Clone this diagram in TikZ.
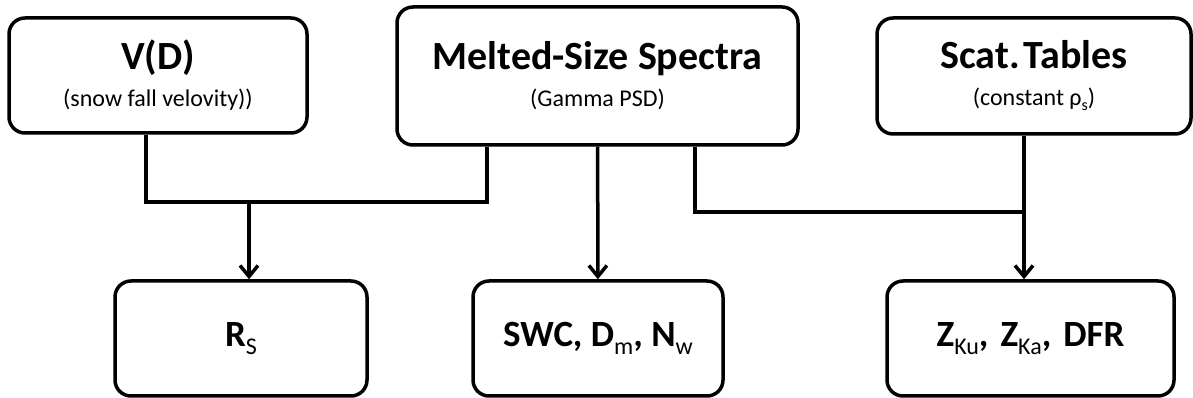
\documentclass[tikz,border=0pt]{standalone}
\usepackage{fontspec}
\setmainfont{Carlito}
\usetikzlibrary{arrows.meta}

\tikzset{
    box/.style={draw, line width=3.5pt, rounded corners=16pt, inner sep=0pt, align=center,
        font=\fontsize{24}{37}\selectfont},
    link/.style={line width=3.5pt},
    tip/.style={-{Straight Barb[length=11pt,width=18pt]}}
}
\newcommand{\boxtitle}[1]{{\fontsize{40}{40}\selectfont\bfseries #1}}
\newcommand{\boxresult}[1]{\fontsize{37}{37}\selectfont\bfseries #1}
\newcommand{\lowidx}[1]{\raisebox{-8pt}{\fontsize{24}{24}\selectfont\mdseries #1}}

\begin{document}
\begin{tikzpicture}[x=1pt, y=1pt]
        \useasboundingbox (0,0) rectangle (1193,398);

        \node[box, minimum width=298pt, minimum height=115pt] (vd) at (158,322.5)
            {\boxtitle{V(D)}\\(snow fall velovity))};
        \node[box, minimum width=401pt, minimum height=138pt] (msd) at (597.5,322)
            {\boxtitle{Melted-Size Spectra}\\(Gamma PSD)};
        \node[box, minimum width=314pt, minimum height=116pt] (scat) at (1034,322)
            {\boxtitle{Scat.\hspace{4pt}Tables}\\(constant ρ\raisebox{-5pt}{\fontsize{16}{16}\selectfont s})};

        \node[box, minimum width=252pt, minimum height=115pt] (rs) at (241,59.5)
            {\boxresult{R\lowidx{S}}};
        \node[box, minimum width=250pt, minimum height=115pt] (swc) at (598,59.5)
            {\boxresult{SWC, D\lowidx{m}, N\lowidx{w}}};
        \node[box, minimum width=287pt, minimum height=115pt] (zk) at (1030.5,59.5)
            {\boxresult{Z\lowidx{Ku},\hspace{12pt}Z\lowidx{Ka},\hspace{12pt}DFR}};

        \coordinate (jl) at (249,196);
        \coordinate (jr) at (1024,186);

        \draw[link] ([xshift=-12pt]vd.south) |- (jl) -| ([xshift=-110.5pt]msd.south);
        \draw[link, tip] (jl) -- (jl |- rs.north);
        \draw[link, tip] (msd) -- (swc);
        \draw[link] ([xshift=97.5pt]msd.south) |- (jr);
        \draw[link, tip] ([xshift=-10pt]scat.south) -- (jr) -- (jr |- zk.north);
\end{tikzpicture}
\end{document}
